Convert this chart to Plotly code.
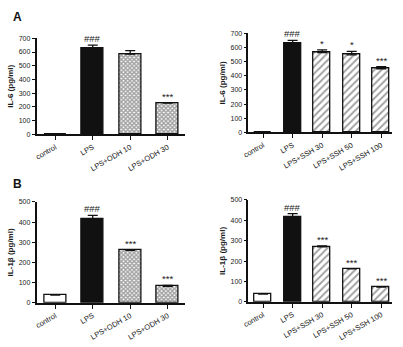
import plotly.graph_objects as go

# ---- data ----
cats_odh = ["control", "LPS", "LPS+ODH 10", "LPS+ODH 30"]
cats_ssh = ["control", "LPS", "LPS+SSH 30", "LPS+SSH 50", "LPS+SSH 100"]

il6_odh = [3, 630, 585, 228]
il6_odh_err = [0, 20, 25, 0]
il6_odh_sig = ["", "###", "", "***"]

il6_ssh = [3, 630, 565, 548, 450]
il6_ssh_err = [0, 20, 18, 25, 14]
il6_ssh_sig = ["", "###", "*", "*", "***"]

il1_odh = [38, 415, 260, 82]
il1_odh_err = [0, 18, 4, 5]
il1_odh_sig = ["", "###", "***", "***"]

il1_ssh = [38, 415, 270, 162, 72]
il1_ssh_err = [0, 18, 5, 0, 0]
il1_ssh_sig = ["", "###", "***", "***", "***"]

W, H = 403, 347
def xd(a, b):
    return [a / W, b / W]
def yd(top, bottom):
    return [1 - bottom / H, 1 - top / H]

FONT = "Liberation Sans, Arial, sans-serif"
BLACK = "#111"
TXT = "#1a1a1a"

def styles(cats):
    fills, shapes, sizes, sols = [], [], [], []
    for c in cats:
        if c == "control":
            fills.append("white"); shapes.append(""); sizes.append(4); sols.append(0.3)
        elif c == "LPS":
            fills.append(BLACK); shapes.append(""); sizes.append(4); sols.append(0.3)
        elif "ODH" in c:
            fills.append("white"); shapes.append("x"); sizes.append(3); sols.append(0.7)
        else:
            fills.append("white"); shapes.append("/"); sizes.append(5); sols.append(0.4)
    return fills, shapes, sizes, sols

fig = go.Figure()
panels = [
    (cats_odh, il6_odh, il6_odh_err, il6_odh_sig, "x", "y", xd(31, 182), yd(35, 133), 700, 100, "IL-6 (pg/ml)", 0.58),
    (cats_ssh, il6_ssh, il6_ssh_err, il6_ssh_sig, "x2", "y2", xd(246, 392), yd(30, 131), 700, 100, "IL-6 (pg/ml)", 0.57),
    (cats_odh, il1_odh, il1_odh_err, il1_odh_sig, "x3", "y3", xd(31, 182), yd(202, 305), 500, 100, "IL-1β (pg/ml)", 0.58),
    (cats_ssh, il1_ssh, il1_ssh_err, il1_ssh_sig, "x4", "y4", xd(246, 392), yd(200, 304), 500, 100, "IL-1β (pg/ml)", 0.57),
]

annotations = []
for i, (cats, vals, errs, sigs, xa, ya, xdom, ydom, ymax, dt, ytitle, bw) in enumerate(panels):
    fills, shapes, sizes, sols = styles(cats)
    fig.add_trace(go.Bar(
        x=list(range(len(cats))), y=vals, width=bw, xaxis=xa, yaxis=ya,
        marker=dict(color=fills, pattern=dict(
            shape=shapes, size=sizes, solidity=sols,
            fgcolor="#222", bgcolor=fills, fillmode="overlay"),
            line=dict(color=BLACK, width=1.3)),
        error_y=dict(type="data", array=errs, arrayminus=[0] * len(errs), symmetric=False,
                     color=BLACK, thickness=1.3, width=5, visible=True),
        showlegend=False, hoverinfo="skip"))
    n = len(cats)
    suffix = "" if i == 0 else str(i + 1)
    rng_right = (n - 1) + 0.47 if n == 4 else (n - 1) + 0.37
    fig.update_layout(**{
        "xaxis" + suffix: dict(domain=xdom, anchor="y" + suffix, range=[-0.5, rng_right],
                               tickmode="array", tickvals=list(range(n)), ticktext=cats,
                               tickangle=-30, ticks="outside", ticklen=4, tickwidth=1.2, tickcolor=BLACK,
                               showline=True, linecolor=BLACK, linewidth=1.5, showgrid=False, zeroline=False,
                               tickfont=dict(family=FONT, size=7.5, color=TXT)),
        "yaxis" + suffix: dict(domain=ydom, anchor="x" + suffix, range=[0, ymax], dtick=dt,
                               ticks="outside", ticklen=3, tickwidth=1.2, tickcolor=BLACK,
                               showline=True, linecolor=BLACK, linewidth=1.5, showgrid=False, zeroline=False,
                               tickfont=dict(family=FONT, size=7, color=TXT),
                               title=dict(text="<b>" + ytitle + "</b>", standoff=4,
                                          font=dict(family=FONT, size=8, color=TXT))),
    })
    for j, s in enumerate(sigs):
        if s:
            annotations.append(dict(x=j, y=vals[j] + errs[j], xref=xa, yref=ya, text=s,
                                    showarrow=False, yanchor="bottom", yshift=-1,
                                    font=dict(family=FONT, size=9.5, color=TXT)))

annotations.append(dict(x=5 / W, y=1 - 4 / H, xref="paper", yref="paper", text="<b>A</b>",
                        showarrow=False, xanchor="left", yanchor="top",
                        font=dict(family=FONT, size=12, color=BLACK)))
annotations.append(dict(x=5 / W, y=1 - 175 / H, xref="paper", yref="paper", text="<b>B</b>",
                        showarrow=False, xanchor="left", yanchor="top",
                        font=dict(family=FONT, size=12, color=BLACK)))

fig.update_layout(width=W, height=H, margin=dict(l=0, r=0, t=0, b=0),
                  paper_bgcolor="white", plot_bgcolor="white",
                  annotations=annotations, bargap=0)
fig.write_html("out.html")
